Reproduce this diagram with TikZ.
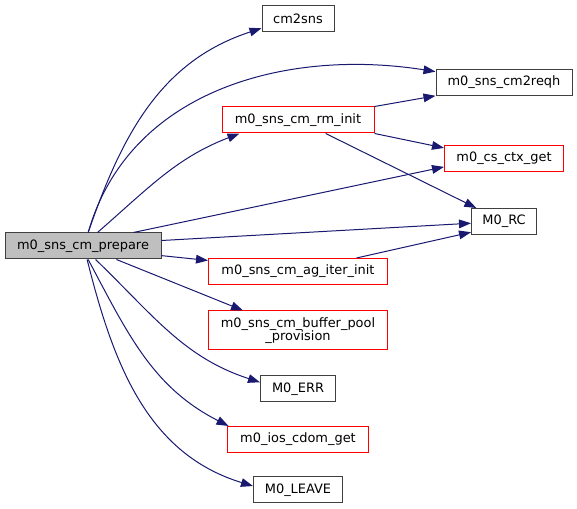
\documentclass[tikz,border=0pt]{standalone}
\usepackage{fontspec}
\setmainfont{DejaVu Sans}
\usetikzlibrary{positioning, arrows.meta}
\definecolor{edgeblue}{HTML}{191970}
\definecolor{boxgray}{HTML}{BFBFBF}
\definecolor{boxline}{HTML}{404040}

\begin{document}
\begin{tikzpicture}[
      x=0.75pt, y=0.75pt,
      every node/.style={font=\fontsize{9.7pt}{10pt}\selectfont},
      fn/.style={draw=#1, fill=white, line width=0.75pt, inner xsep=2pt, minimum height=19.5pt, align=center},
      fn/.default=boxline,
      call/.style={->, draw=edgeblue, line width=0.75pt},
      >={Triangle[length=9pt,width=6.5pt]},
    ]
    \useasboundingbox (0,0) rectangle (577,509);

    \node[fn, fill=boxgray, minimum width=117pt] (prepare) at (83,263) {m0\_sns\_cm\_prepare};

    \node[fn, minimum width=54pt] (cm2sns) at (298,490.5) {cm2sns};
    \node[fn, minimum width=102pt] (cm2reqh) at (504,426.5) {m0\_sns\_cm2reqh};
    \node[fn=red, minimum width=114pt] (rminit) at (298,389) {m0\_sns\_cm\_rm\_init};
    \node[fn=red, minimum width=89.25pt] (ctxget) at (504,350.5) {m0\_cs\_ctx\_get};
    \node[fn, minimum width=48.75pt] (rc) at (504,287.5) {M0\_RC};
    \node[fn=red, minimum width=134.25pt] (agiter) at (298,237.5) {m0\_sns\_cm\_ag\_iter\_init};
    \node[fn=red, minimum width=134.25pt, minimum height=29.25pt] (bufpool) at (298,178.5)
      {m0\_sns\_cm\_buffer\_pool\\\_provision};
    \node[fn, minimum width=56.25pt] (err) at (298,120) {M0\_ERR};
    \node[fn=red, minimum width=105.75pt] (cdom) at (298,69.5) {m0\_ios\_cdom\_get};
    \node[fn, minimum width=66.75pt] (leave) at (298,19) {M0\_LEAVE};

    % calls from m0_sns_cm_prepare
    \draw[call] (prepare.69) to[out=71, in=198] (cm2sns.195);
    \draw[call] (prepare.69) to[out=74, in=171] (cm2reqh.171);
    \draw[call] (prepare.43) to[out=41, in=201] (rminit.193);
    \draw[call] (prepare.15) -- (ctxget.188);
    \draw[call] (prepare.4) -- (rc.183);
    \draw[call] (prepare.-7) -- (agiter.173);
    \draw[call] (prepare.-22) -- (bufpool.160);
    \draw[call] (prepare.-47) to[out=-44, in=162] (err.170);
    \draw[call] (prepare.-69) to[out=-62, in=153] (cdom.169);
    \draw[call] (prepare.-73) to[out=-76, in=163] (leave.175);

    % nested calls
    \draw[call] (rminit.10) -- (cm2reqh.191);
    \draw[call] (rminit.-10) -- (ctxget.170);
    \draw[call] (rminit.-26) -- (rc.154);
    \draw[call] (agiter.13) -- (rc.198);
  \end{tikzpicture}
\end{document}
